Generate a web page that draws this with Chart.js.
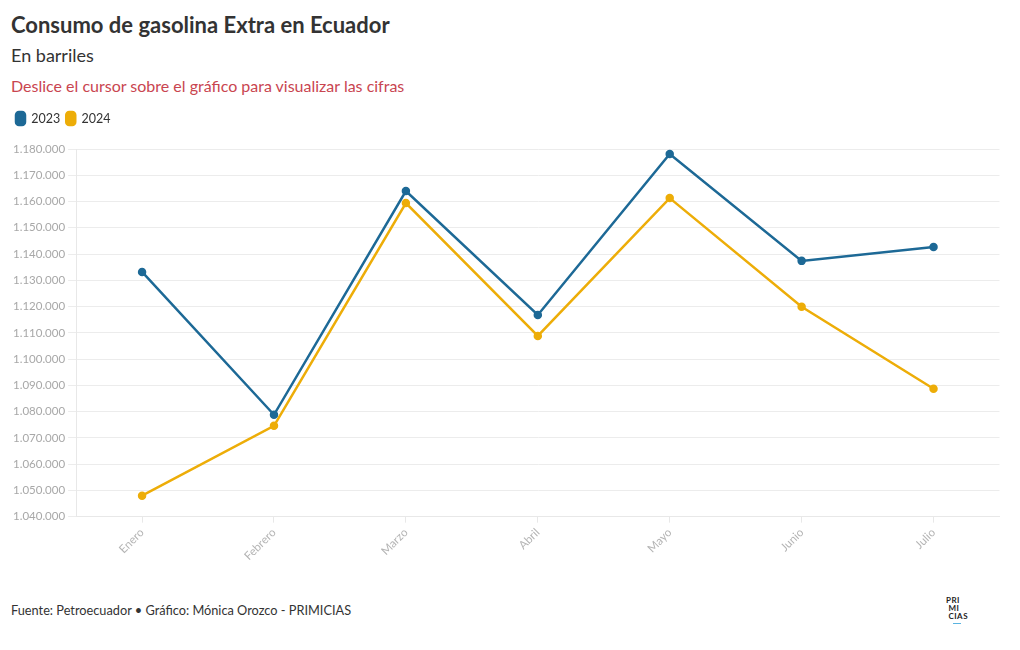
<!DOCTYPE html>
<html>
<head>
<meta charset="utf-8">
<script src="https://cdn.jsdelivr.net/npm/chart.js@4/dist/chart.umd.min.js"></script>
<style>
  body { margin: 0; background: #fff; font-family: Lato, "Noto Sans", sans-serif; color: #333; }
  #wrap { position: relative; width: 1020px; height: 650px; }
  .title { position: absolute; left: 11px; top: 11px; font-size: 22px; font-weight: bold; color: #333; }
  .subtitle { position: absolute; left: 11px; top: 44px; font-size: 18px; color: #333; }
  .note { position: absolute; left: 11px; top: 76px; font-size: 16px; color: #c94550; }
  .chart-box { position: absolute; left: 0; top: 106px; width: 1006px; height: 460px; }
  .footer { position: absolute; left: 11px; top: 602px; font-size: 12.75px; color: #333; }
  .logo { position: absolute; left: 946px; top: 596px; font-size: 8px; font-weight: bold; line-height: 8px; color: #222; letter-spacing: 0.5px; }
  .logo span { display: block; width: 8px; height: 1px; background: #5ab4e0; margin: 3px 0 0 7px; }
</style>
</head>
<body>
<div id="wrap">
  <div class="title">Consumo de gasolina Extra en Ecuador</div>
  <div class="subtitle">En barriles</div>
  <div class="note">Deslice el cursor sobre el gráfico para visualizar las cifras</div>
  <div class="chart-box"><canvas id="consumo-chart"></canvas></div>
  <div class="footer">Fuente: Petroecuador • Gráfico: Mónica Orozco - PRIMICIAS</div>
  <div class="logo">PRI<br>&nbsp;MI<br>&nbsp;CIAS<span></span></div>
</div>
<script>
const meses = ['Enero', 'Febrero', 'Marzo', 'Abril', 'Mayo', 'Junio', 'Julio'];
const barriles2023 = [1133200, 1078800, 1164000, 1116800, 1178100, 1137400, 1142700];
const barriles2024 = [1048000, 1074600, 1159400, 1108800, 1161300, 1119900, 1088700];
const yMin = 1040000;
const yMax = 1180000;
const yStep = 10000;

const azul = '#1d6996';
const amarillo = '#edad08';

// miles con punto, como en el original
function formatoMiles(v) {
  return String(Math.round(v)).replace(/\B(?=(\d{3})+(?!\d))/g, '.');
}

// espacio extra entre la leyenda y el gráfico
const legendGap = {
  id: 'legendGap',
  beforeInit(chart) {
    const fit = chart.legend.fit;
    chart.legend.fit = function() {
      fit.bind(this)();
      this.height += 14;
    };
  }
};

const ctx = document.getElementById('consumo-chart');
new Chart(ctx, {
  type: 'line',
  plugins: [legendGap],
  data: {
    labels: meses,
    datasets: [
      {
        label: '2023',
        data: barriles2023,
        borderColor: azul,
        backgroundColor: azul,
        borderWidth: 2.5,
        pointRadius: 3,
        tension: 0
      },
      {
        label: '2024',
        data: barriles2024,
        borderColor: amarillo,
        backgroundColor: amarillo,
        borderWidth: 2.5,
        pointRadius: 3,
        tension: 0
      }
    ]
  },
  options: {
    responsive: true,
    maintainAspectRatio: false,
    animation: false,
    layout: { padding: { left: 10, right: 0, top: 0, bottom: 0 } },
    plugins: {
      legend: {
        position: 'top',
        align: 'start',
        labels: {
          boxWidth: 9,
          boxHeight: 13,
          useBorderRadius: true,
          borderRadius: 3,
          padding: 6,
          color: '#333',
          font: { family: 'Lato', size: 12.5 }
        }
      },
      tooltip: {
        callbacks: {
          label: function(context) {
            return context.dataset.label + ': ' + formatoMiles(context.parsed.y);
          }
        }
      }
    },
    scales: {
      x: {
        offset: true,
        grid: { drawOnChartArea: false, color: '#e8e8e8', tickLength: 6 },
        border: { color: '#e8e8e8' },
        ticks: {
          color: '#b4b4b4',
          maxRotation: 45,
          minRotation: 45,
          font: { family: 'Lato', size: 11.5 }
        }
      },
      y: {
        min: yMin,
        max: yMax,
        grid: { color: '#ececec', tickLength: 8 },
        border: { color: '#e8e8e8' },
        ticks: {
          stepSize: yStep,
          color: '#a8a8a8',
          padding: 3,
          font: { family: 'Lato', size: 11.5 },
          callback: function(value) {
            return formatoMiles(value);
          }
        }
      }
    }
  }
});
</script>
</body>
</html>
